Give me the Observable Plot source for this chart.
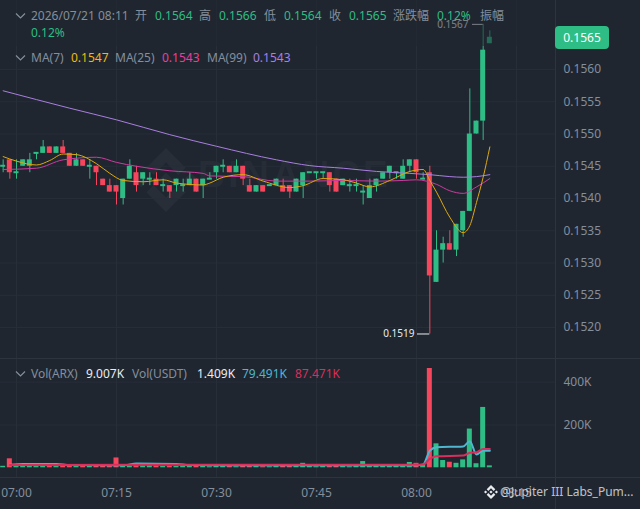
<!DOCTYPE html>
<html><head><meta charset="utf-8">
<script src="https://cdn.jsdelivr.net/npm/d3@7"></script>
<script src="https://cdn.jsdelivr.net/npm/@observablehq/plot@0.6"></script>
<style>
html,body{margin:0;padding:0;background:#1f2630;width:640px;height:509px;overflow:hidden}
#root{position:relative;width:640px;height:509px;font-family:"Noto Sans","Noto Sans CJK SC",sans-serif;font-size:12px;color:#848e9c}
.abs{position:absolute;white-space:nowrap}
svg{display:block}
#root > svg, #root > div > svg{font-family:"Noto Sans","Noto Sans CJK SC",sans-serif}
</style></head><body><div id="root"></div>
<script>
// Candles, one per minute, first at 06:58
const firstMinute=-2;
const opens=[.1545,.1546,.1544,.1545,.1545,.1547,.1547,.1548,.1547,.1548,.1547,.1545,.1546,.1545,.1545,.1543,.1542,.1542,.1540,.1543,.1544,.1543,.1543,.1543,.1542,.1542,.1542,.1542,.1542,.1543,.1542,.1543,.1544,.1545,.1545,.1544,.1545,.1542,.1541,.1542,.1542,.1542,.1542,.1542,.1541,.1542,.1544,.1544,.1544,.1544,.1543,.1542,.1542,.1542,.1541,.1540,.1542,.1543,.1544,.1544,.1543,.1545,.1546,.1543,.1544,.1527,.1532,.1533,.1532,.1535,.1538,.1550,.1552,.1564];
const highs=[.1546,.1546,.1546,.1546,.1547,.1547,.1549,.1548,.1548,.1549,.1547,.1547,.1546,.1546,.1545,.1543,.1543,.1542,.1543,.1546,.1545,.1544,.1544,.1544,.1543,.1542,.1543,.1543,.1544,.1543,.1543,.1544,.1545,.1546,.1545,.1546,.1545,.1543,.1542,.1542,.1542,.1543,.1543,.1542,.1543,.1544,.1544,.1544,.1544,.1544,.1543,.1543,.1543,.1543,.1542,.1543,.1543,.1544,.1545,.1544,.1546,.1546,.1546,.1544,.1545,.1535,.1534,.1535,.1536,.1538,.1557,.1552,.1567,.1566];
const lows=[.1544,.1543,.1543,.1545,.1544,.1546,.1547,.1547,.1547,.1547,.1545,.1545,.1545,.1543,.1542,.1542,.1541,.1539,.1539,.1543,.1541,.1542,.1542,.1542,.1541,.1540,.1541,.1541,.1542,.1541,.1540,.1543,.1543,.1544,.1544,.1544,.1542,.1541,.1541,.1541,.1542,.1542,.1541,.1540,.1541,.1540,.1544,.1543,.1543,.1541,.1541,.1542,.1541,.1541,.1539,.1540,.1541,.1543,.1543,.1543,.1543,.1544,.1543,.1543,.1519,.1527,.1530,.1532,.1531,.1534,.1538,.1550,.1549,.1564];
const closes=[.1545,.1544,.1544,.1546,.1546,.1547,.1548,.1547,.1548,.1547,.1545,.1546,.1545,.1545,.1544,.1542,.1541,.1541,.1543,.1545,.1542,.1544,.1543,.1542,.1542,.1541,.1543,.1542,.1543,.1541,.1543,.1543,.1545,.1545,.1544,.1545,.1543,.1541,.1542,.1541,.1542,.1543,.1541,.1541,.1543,.1544,.1544,.1544,.1544,.1542,.1541,.1543,.1542,.1542,.1541,.1542,.1543,.1544,.1545,.1544,.1545,.1546,.1544,.1543,.1528,.1532,.1533,.1532,.1536,.1538,.1550,.1552,.1563,.1565];
const volumes=[7,42,10,8,8,6,7,8,6,10,8,6,6,7,8,9,6,46,10,8,9,8,9,8,6,7,6,8,10,8,7,5,15,8,6,5,7,9,6,5,5,6,8,15,7,21,8,5,7,6,8,6,5,7,29,12,8,7,15,8,10,25,21,12,464,112,34,26,21,37,181,19,282,9.007];

// Moving averages: minutes past 07:00 and values
const ma7Minutes=[-2,0,3,5,7,9,12,14,16,19,22,24,28,29,31,34,37,41,43,46,49,51,53,56,59,61,62,63,65,67,68,69,70,71];
const ma7Values=[.15465,.15458,.15452,.15459,.15469,.15468,.15454,.15439,.15428,.15426,.15429,.15424,.15421,.15424,.15433,.15437,.15427,.15417,.15420,.15431,.15429,.15424,.15418,.15428,.15442,.15445,.15428,.15410,.15371,.15347,.15358,.15394,.15433,.15480];
const ma25Minutes=[-2,3,7,12,15,18,23,28,29,34,39,44,49,54,58,60,63,65,67,69,71];
const ma25Values=[.15445,.15447,.15460,.15464,.15456,.15450,.15443,.15439,.15435,.15434,.15427,.15427,.15428,.15427,.15428,.15429,.15422,.15412,.15408,.15418,.15431];
const ma99Minutes=[-2,8,15,23,30,39,44,49,54,59,62,65,67,69,71];
const ma99Values=[.15567,.15540,.15522,.15499,.15481,.15460,.15451,.15447,.15442,.15439,.15437,.15434,.15433,.15434,.15437];
const volCyanMinutes=[-1,1,6,8,16,18,24,26,40,60,61,62,63,67,68,69,70,71];
const volCyanValues=[14,18,18,13,12,20,18,13,12,12,15,80,96,100,124,62,80,79.491];
const volPinkMinutes=[-1,20,40,60,61,62,63,67,68,69,70,71];
const volPinkValues=[13,14,14,14,15,42,54,57,70,73,88,87.471];

const priceTicks=[.1520,.1525,.1530,.1535,.1540,.1545,.1550,.1555,.1560];
const volumeTicks=[200,400];
const timeTickMinutes=[0,15,30,45,60,75];
const extremes=[{label:"0.1567",price:.1567,from:68.4,to:70,textAt:67.8},{label:"0.1519",price:.1519,from:60.15,to:62,textAt:59.7}];

const GREEN="#2ebd85",RED="#f6465d",GRID="#272e38",GREY="#848e9c";
const t=m=>new Date(Date.UTC(2026,6,21,7,0)+m*60000);
const zip=(a,b)=>a.map((m,i)=>({t:t(m),v:b[i]}));
const candles=opens.map((o,i)=>{const m=firstMinute+i;return{m,t:t(m),t1:t(m-.375),t2:t(m+.375),o,h:highs[i],l:lows[i],c:closes[i],vol:volumes[i],color:closes[i]>=o?GREEN:RED}});
const bodies=candles.filter(d=>d.o!==d.c), dojis=candles.filter(d=>d.o===d.c);
const xScale={type:"utc",domain:[t(-2.4),t(80.85)]};
const root=document.getElementById("root");
const LOGO='M38.73 53.2l24.59-24.58 24.6 24.6 14.3-14.31L63.32 0 24.42 38.9zM0 63.31L14.3 49l14.31 14.31-14.31 14.3zM38.73 73.41l24.59 24.59 24.6-24.6 14.31 14.29-38.9 38.91-38.91-38.88v-.02zM97.99 63.31L112.3 49l14.31 14.3-14.31 14.32zM77.83 63.3l-14.51-14.52-10.73 10.73-1.24 1.23-2.54 2.54 14.51 14.5 14.51-14.47z';
function add(html){const d=document.createElement("div");d.innerHTML=html;while(d.firstChild)root.appendChild(d.firstChild)}

// watermark under the chart
add(`<svg class="abs" style="left:134px;top:148px" width="64" height="64" viewBox="0 0 126.61 126.61"><path d="${LOGO}" fill="#272e38"/></svg>`);
add(`<div class="abs" style="left:198px;top:154px;font:700 37px 'Liberation Sans';letter-spacing:3.5px;color:#262d37">BINANCE</div>`);

const price=Plot.plot({width:640,height:358,marginTop:0,marginBottom:0,marginLeft:0,marginRight:85,
 style:{background:"transparent",fontSize:"12px"},
 x:{...xScale,axis:null},
 y:{domain:[.15152,.15707],range:[358,0],axis:null},
 marks:[
  Plot.ruleY(priceTicks,{stroke:GRID}),
  Plot.ruleX(timeTickMinutes.map(t),{stroke:GRID}),
  Plot.axisY({anchor:"right",ticks:priceTicks,tickSize:0,tickPadding:8,tickFormat:d3.format(".4f"),fill:GREY,color:GREY,fontSize:12}),
  Plot.ruleX(candles,{x:"t",y1:"l",y2:"h",stroke:"color",strokeWidth:1}),
  Plot.rect(bodies,{x1:"t1",x2:"t2",y1:"o",y2:"c",fill:"color"}),
  Plot.rect(dojis,{x1:"t1",x2:"t2",y1:"o",y2:"c",fill:"color",insetTop:-1,insetBottom:-1}),
  Plot.line(zip(ma99Minutes,ma99Values),{x:"t",y:"v",stroke:"#a97ee0",strokeWidth:1,curve:"monotone-x"}),
  Plot.line(zip(ma25Minutes,ma25Values),{x:"t",y:"v",stroke:"#cf3a9f",strokeWidth:1,curve:"monotone-x"}),
  Plot.line(zip(ma7Minutes,ma7Values),{x:"t",y:"v",stroke:"#e0a90c",strokeWidth:1,curve:"monotone-x"}),
  Plot.ruleY(extremes,{y:"price",x1:d=>t(d.from),x2:d=>t(d.to),stroke:"#eaecef",strokeWidth:1}),
  Plot.text(extremes,{x:d=>t(d.textAt),y:"price",text:"label",textAnchor:"end",fill:"#eaecef",fontSize:10})
 ]});
price.setAttribute("class","abs");price.style.left="0";price.style.top="0";root.appendChild(price);

const vol=Plot.plot({width:640,height:151,marginTop:0,marginBottom:32,marginLeft:0,marginRight:85,
 style:{background:"transparent",fontSize:"12px"},
 x:{...xScale,axis:null},
 y:{domain:[0,510.7],range:[109.3,0],axis:null},
 marks:[
  Plot.ruleY(volumeTicks,{stroke:GRID}),
  Plot.ruleX(timeTickMinutes.map(t),{stroke:GRID}),
  Plot.axisY({anchor:"right",ticks:volumeTicks,tickSize:0,tickPadding:8,tickFormat:d=>d+"K",color:GREY,fontSize:12}),
  Plot.axisX({anchor:"bottom",ticks:timeTickMinutes.map(t),tickSize:0,tickPadding:11,tickFormat:d3.utcFormat("%H:%M"),color:GREY,fontSize:12}),
  Plot.rectY(candles,{x1:"t1",x2:"t2",y1:0,y2:"vol",fill:"color"}),
  Plot.line(zip(volCyanMinutes,volCyanValues),{x:"t",y:"v",stroke:"#4fb6cf",strokeWidth:2,curve:"monotone-x"}),
  Plot.line(zip(volPinkMinutes,volPinkValues),{x:"t",y:"v",stroke:"#d92f5c",strokeWidth:2,curve:"monotone-x"})
 ]});
vol.setAttribute("class","abs");vol.style.left="0";vol.style.top="358px";root.appendChild(vol);

// dividers
add(`<div class="abs" style="left:0;top:358px;width:640px;height:1px;background:#2d343e"></div>`);
add(`<div class="abs" style="left:0;top:477px;width:640px;height:1px;background:#2d343e"></div>`);
add(`<div class="abs" style="left:555px;top:0;width:1px;height:509px;background:#2d343e"></div>`);

// header veil
add(`<div class="abs" style="left:0;top:0;width:555px;height:46px;background:rgba(31,38,48,.55)"></div>`);

// header rows
const rows=[
 [16,[[31,"2026/07/21 08:11",GREY],[135,"开",GREY],[155,"0.1564",GREEN],[199,"高",GREY],[219,"0.1566",GREEN],[264,"低",GREY],[284,"0.1564",GREEN],[329,"收",GREY],[349,"0.1565",GREEN],[393,"涨跌幅",GREY],[437,"0.12%",GREEN],[480,"振幅",GREY]]],
 [33,[[31,"0.12%",GREEN]]],
 [58,[[31,"MA(7)",GREY],[71,"0.1547","#f0b90b"],[115,"MA(25)",GREY],[162,"0.1543","#e83e9f"],[207,"MA(99)",GREY],[253,"0.1543","#a97ee8"]]],
 [374,[[31,"Vol(ARX)",GREY],[86,"9.007K","#eaecef"],[132,"Vol(USDT)",GREY],[197,"1.409K","#eaecef"],[242,"79.491K","#4fb6cf"],[295,"87.471K","#d92f5c"]]]
];
for(const [cy,items] of rows)for(const [x,s,c] of items)
 add(`<div class="abs" style="left:${x}px;top:${cy-9}px;line-height:18px;color:${c}">${s}</div>`);
for(const cy of [16,58,374])
 add(`<svg class="abs" style="left:15px;top:${cy-4}px" width="12" height="8"><polyline points="1,1.5 5.5,6 10,1.5" fill="none" stroke="${GREY}" stroke-width="1.2"/></svg>`);

// current price tag
add(`<div class="abs" style="left:555px;top:26px;width:54px;height:23px;line-height:23px;background:#2ebd85;border-radius:4px;color:#fff;text-align:center">0.1565</div>`);

// bottom-right credit
add(`<svg class="abs" style="left:484px;top:485px" width="14" height="14" viewBox="0 0 126.61 126.61"><path d="${LOGO}" fill="#eaecef"/></svg>`);
add(`<div class="abs" style="left:500px;top:483px;line-height:18px;font-size:12px;color:rgba(234,236,239,.8)">@Jupiter III Labs_Pum...</div>`);
</script></body></html>
